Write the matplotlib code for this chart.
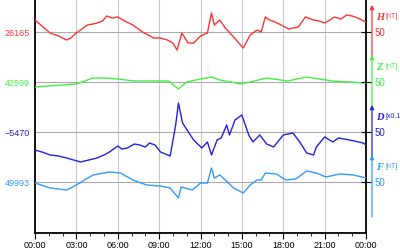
import matplotlib
matplotlib.use("Agg")
import matplotlib.pyplot as plt
import numpy as np

plt.rcParams["font.family"] = ["Liberation Sans", "DejaVu Sans"]

# ---- valores (hora do dia, desvio relativo a linha base) ----
h_hours = [0, 0.5, 1.1, 1.7, 2.3, 2.6, 3.0, 3.4, 3.8, 4.2, 4.5, 4.9, 5.2, 5.6,
           6.0, 6.5, 7.1, 7.8, 8.2, 8.6, 9.1, 9.6, 10.0, 10.3, 10.65,
           11.1, 11.5, 12.0, 12.5, 12.8, 13.0, 13.4, 13.8, 14.4, 15.1, 15.6, 16.1,
           16.4, 16.7, 17.0, 17.4, 17.7, 18.4, 19.1, 19.6, 20.2, 20.6, 21.0, 21.4,
           21.7, 22.2, 22.6, 23.0, 23.4, 24.0]
h_vals = [12, 6, -1, -4, -8, -6, -1, 3, 7, 8, 9, 11, 16, 14,
          15, 11, 7, 0, -3, -6, -6, -8, -11, -18, -1,
          -11, -11, -4, -1, 19, 7, 12, 4, -5, -16, -3, 2,
          0, 15, 12, 10, 8, 3, 5, 15, 12, 11, 9, 12,
          15, 13, 17, 16, 14, 10]

z_hours = [0, 3.0, 4.2, 5.0, 6.0, 7.2, 9.1, 9.7, 10.4, 11.0, 12.0, 12.8, 13.4, 14.2,
           14.9, 15.6, 16.8, 18.3, 19.7, 20.6, 21.6, 24.0]
z_vals = [-5, -2, 4, 4, 3, 1, 1, 1, -7, 0, 3, 5, 2, 0,
          -2, 0, 4, 1, 5, 3, 1, -1]

d_hours = [0, 0.5, 1.1, 1.7, 2.3, 2.8, 3.3, 3.9, 4.5, 5.0, 5.4, 6.0, 6.3, 6.7,
           7.2, 7.6, 8.0, 8.3, 8.7, 9.1, 9.8, 10.2, 10.4,
           10.7, 11.5, 12.1, 12.5, 12.8, 13.2, 13.5, 13.9, 14.1, 14.5, 15.0, 15.5,
           15.8, 16.3, 16.8, 17.3, 18.0, 18.7, 19.2, 19.7, 20.2, 20.4, 21.0, 21.6,
           22.0, 22.8, 23.8, 24.0]
d_vals = [-18, -20, -23, -24, -26, -28, -30, -28, -26, -23, -20, -14, -17, -16,
          -12, -13, -15, -11, -13, -20, -24, 7, 29,
          9, -8, -16, -10, -23, -8, -6, 7, -3, 12, 17, -3,
          -10, -3, -12, -15, -3, -1, -10, -21, -23, -15, -5, -10,
          -6, -8, -11, -13]

f_hours = [0, 1.1, 2.3, 3.0, 3.6, 4.2, 5.4, 6.2, 7.1, 8.1, 9.1, 9.8, 10.4, 10.6, 11.4,
           12.0, 12.5, 12.8, 13.0, 13.4, 13.8, 14.4, 15.1, 15.6, 16.1, 16.4, 16.7,
           17.5, 18.2, 18.9, 19.7, 20.4, 21.1, 22.1, 23.1, 24.0]
f_vals = [-1, -6, -8, -3, 2, 7, 10, 9, 2, -3, -4, -6, -16, -5, -8,
          -1, -1, 14, 4, 7, 2, -6, -11, -3, 2, 2, 9,
          8, 2, 3, 11, 9, 5, 8, 7, 4]

base_labels = ["26165", "42599", "\u22125470", "49993"]
comp_names = ["H", "Z", "D", "F"]
comp_units = ["[nT]", "[nT]", "[x0.1", "[nT]"]
tick_labels = ["00:00", "03:00", "06:00", "09:00", "12:00",
               "15:00", "18:00", "21:00", "00:00"]

colors = ["#ff3333", "#44ee44", "#2222dd", "#3399ff"]
baselines = [201, 151, 101, 51]

fig = plt.figure(figsize=(4, 2.5), dpi=100)
ax = fig.add_axes([35 / 400, 17 / 250, 331 / 400, 233 / 250])
ax.set_xlim(0, 24)
ax.set_ylim(0, 233)

series = [(h_hours, h_vals), (z_hours, z_vals), (d_hours, d_vals), (f_hours, f_vals)]
for (hrs, vals), c, b in zip(series, colors, baselines):
    ax.plot(hrs, np.array(vals) + b, color=c, lw=1.0, zorder=3)

# grade
for xg in range(3, 24, 3):
    ax.axvline(xg, color="#c8c8c8", lw=0.8, zorder=1)
for b in baselines:
    ax.axhline(b, color="#aaaaaa", lw=0.8, zorder=1)

ax.set_xticks(range(0, 25, 3))
ax.set_xticklabels(tick_labels, fontsize=6.5)
ax.set_xticks(range(0, 25, 1), minor=True)
ax.tick_params(axis="x", which="major", length=4, width=0.8, pad=2)
ax.tick_params(axis="x", which="minor", length=2, width=0.6)

ax.set_yticks(baselines)
ax.set_yticklabels(base_labels, fontsize=6.5)
for lab, c in zip(ax.get_yticklabels(), colors):
    lab.set_color(c)
ax.tick_params(axis="y", length=0, pad=4)

ax.spines["top"].set_visible(False)
for s in ("left", "right", "bottom"):
    ax.spines[s].set_linewidth(1.3)

# escala a direita
ax2 = ax.twinx()
ax2.set_ylim(0, 233)
ax2.set_yticks(baselines)
ax2.set_yticklabels(["50"] * 4, fontsize=7)
for lab, c in zip(ax2.get_yticklabels(), colors):
    lab.set_color(c)
ax2.tick_params(axis="y", direction="inout", length=7, width=0.8, pad=3)
for s in ax2.spines.values():
    s.set_visible(False)

x_arr = 24 + 6 / 13.79
for name, unit, c, b in zip(comp_names, comp_units, colors, baselines):
    y0 = b - 25 if name != "F" else b - 35
    ax.annotate("", xy=(x_arr, b + 27), xytext=(x_arr, y0),
                xycoords="data", annotation_clip=False,
                arrowprops=dict(arrowstyle="-|>", color=c, lw=0.9,
                                mutation_scale=6, shrinkA=0, shrinkB=0))
    ax.text(x_arr + 0.3, b + 15, name, color=c, fontsize=7.5,
            fontweight="bold", fontstyle="italic", family="Liberation Serif",
            ha="left", va="center", clip_on=False)
    ax.text(x_arr + 1.0, b + 16, unit, color=c, fontsize=5,
            ha="left", va="center", clip_on=False)

fig.savefig("out.png", dpi=100)
